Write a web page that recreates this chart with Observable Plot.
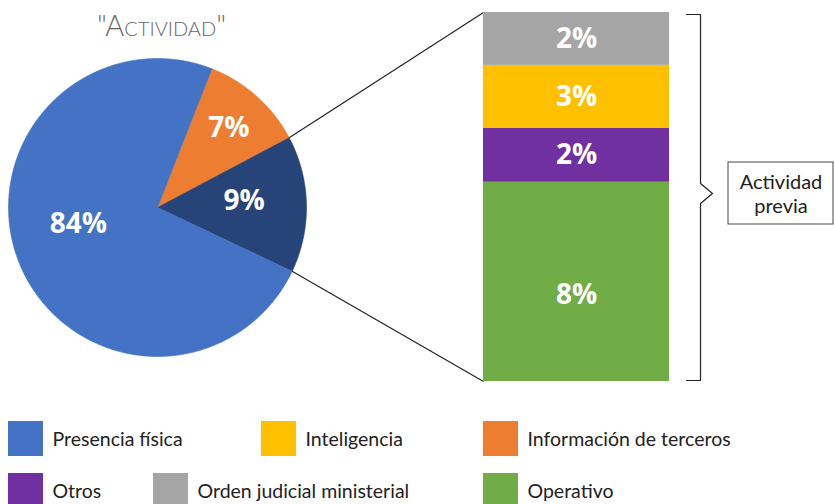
<!DOCTYPE html>
<html><head><meta charset="utf-8">
<script src="https://cdn.jsdelivr.net/npm/d3@7"></script>
<script src="https://cdn.jsdelivr.net/npm/@observablehq/plot@0.6"></script>
<style>body{margin:0;background:#fff}</style>
</head><body><div id="chart"></div>
<script>
// ---- data ----
const pieCategories = ["Información de terceros", "Actividad previa", "Presencia física"];
const pieValues = [11.3, 14.8, 73.9];          // drawn shares
const pieLabels = ["7%", "9%", "84%"];

const barCategories = ["Operativo", "Otros", "Inteligencia", "Orden judicial ministerial"];
const barValues = [8.1, 2.2, 2.55, 2.15];      // drawn heights
const barLabels = ["8%", "2%", "3%", "2%"];

const legendRow1 = ["Presencia física", "Inteligencia", "Información de terceros"];
const legendRow2 = ["Otros", "Orden judicial ministerial", "Operativo"];

const titleText = "\"Actividad\"";
const boxLines = ["Actividad", "previa"];

// ---- styles ----
const colorOf = {
  "Presencia física": "#4472C4",
  "Información de terceros": "#ED7D31",
  "Actividad previa": "#264478",
  "Operativo": "#70AD47",
  "Otros": "#7030A0",
  "Inteligencia": "#FFC000",
  "Orden judicial ministerial": "#A5A5A5"
};

// ---- layout ----
const W = 834, H = 504;
const cx = 157, cy = 207, R = 149;
const startDeg = 21.4;
const labelPlace = [[107, 0], [87, -3.3], [81, 9.6]]; // radius, angle nudge (deg)
const barX1 = 483, barX2 = 669, barTop = 12, barBottom = 381;
const barLabelDy = [13, 0, 0, 0];
const legendX = [[8, 261, 483], [8, 153, 483]];
const legendY = [421, 473];
const sw = 35;

// ---- pie geometry from d3.pie ----
const rad = Math.PI / 180;
const arcs = d3.pie().sort(null).value(d => d)
  .startAngle(startDeg * rad).endAngle(startDeg * rad + 2 * Math.PI)(pieValues);
const px = a => cx + R * Math.sin(a), py = a => cy - R * Math.cos(a);
const piePts = [];
arcs.forEach((a, i) => {
  const key = pieCategories[i];
  piePts.push({key, x: cx, y: cy});
  const n = Math.max(4, Math.ceil((a.endAngle - a.startAngle) / rad));
  for (let k = 0; k <= n; k++) {
    const t = a.startAngle + (a.endAngle - a.startAngle) * k / n;
    piePts.push({key, x: px(t), y: py(t)});
  }
  piePts.push({key, x: cx, y: cy});
});
const pieText = arcs.map((a, i) => {
  const m = (a.startAngle + a.endAngle) / 2 + labelPlace[i][1] * rad;
  const r = labelPlace[i][0];
  return {label: pieLabels[i], x: cx + r * Math.sin(m), y: cy - r * Math.cos(m)};
});

// ---- bar geometry ----
const total = d3.sum(barValues);
const by = d3.scaleLinear([0, total], [barBottom, barTop]);
const cum = d3.cumsum(barValues);
const barSegs = barValues.map((v, i) => ({
  cat: barCategories[i], label: barLabels[i],
  y1: by(cum[i] - v), y2: by(cum[i]), dy: barLabelDy[i]
}));

// connectors: from the exploded slice's edges to the bar corners
const expl = arcs[1];
const links = [
  {x1: px(expl.startAngle), y1: py(expl.startAngle), x2: barX1, y2: by(total)},
  {x1: px(expl.endAngle), y1: py(expl.endAngle), x2: barX1, y2: by(0)}
];

// bracket
const bx0 = 686, bx1 = 700, tip = 12, bMid = 193;
const bracket = [
  {x: bx0, y: by(total) + 2}, {x: bx1, y: by(total) + 2}, {x: bx1, y: bMid - 10},
  {x: bx1 + tip, y: bMid}, {x: bx1, y: bMid + 10}, {x: bx1, y: by(0) - 1}, {x: bx0, y: by(0) - 1}
];
const box = {x1: 728, x2: 833, y1: 162, y2: 224};

// legend
const legendItems = [];
[legendRow1, legendRow2].forEach((row, r) => row.forEach((name, c) => {
  legendItems.push({name, x: legendX[r][c], y: legendY[r]});
}));

const font = "Lato, 'Open Sans', sans-serif";
const bold = "'Open Sans', 'Noto Sans', sans-serif";

const chart = Plot.plot({
  width: W, height: H, margin: 0,
  x: {domain: [0, W], range: [0, W], axis: null},
  y: {domain: [0, H], range: [0, H], axis: null},
  color: {type: "identity"},
  marks: [
    Plot.line(piePts, {x: "x", y: "y", z: "key", fill: d => colorOf[d.key], stroke: d => colorOf[d.key], strokeWidth: 0.6, curve: "linear"}),
    Plot.text(pieText, {x: "x", y: "y", text: "label", fill: "white", fontSize: 28, fontWeight: "bold", fontFamily: bold, lineAnchor: "middle"}),
    Plot.link(links, {x1: "x1", y1: "y1", x2: "x2", y2: "y2", stroke: "#222", strokeWidth: 1.2}),
    Plot.rect(barSegs, {x1: () => barX1, x2: () => barX2, y1: "y1", y2: "y2", fill: d => colorOf[d.cat]}),
    Plot.text(barSegs, {x: () => (barX1 + barX2) / 2, y: d => (d.y1 + d.y2) / 2 + d.dy, text: "label", fill: "white", fontSize: 28, fontWeight: "bold", fontFamily: bold, lineAnchor: "middle"}),
    Plot.line(bracket, {x: "x", y: "y", stroke: "#222", strokeWidth: 1.2, curve: "linear"}),
    Plot.rect([box], {x1: "x1", x2: "x2", y1: "y1", y2: "y2", fill: "white", stroke: "#444", strokeWidth: 1}),
    Plot.text(boxLines, {x: (box.x1 + box.x2) / 2, y: (d, i) => 182 + i * 24, text: d => d, fill: "#222", fontSize: 20, fontFamily: font, lineAnchor: "middle"}),
    Plot.text([titleText], {x: 161, y: 26, text: d => d, fill: "#666", fontSize: 29, fontWeight: 300, fontFamily: font, fontVariant: "small-caps", lineAnchor: "middle"}),
    Plot.rect(legendItems, {x1: "x", x2: d => d.x + sw, y1: "y", y2: d => d.y + sw, fill: d => colorOf[d.name]}),
    Plot.text(legendItems, {x: d => d.x + 44, y: d => d.y + 18, text: "name", textAnchor: "start", fill: "#222", fontSize: 19.5, fontFamily: font, lineAnchor: "middle"})
  ]
});
document.getElementById("chart").appendChild(chart);
</script>
</body></html>
